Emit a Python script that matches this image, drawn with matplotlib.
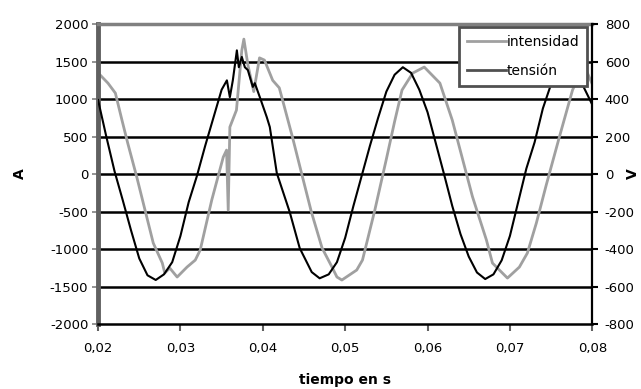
import matplotlib
matplotlib.use("Agg")
import matplotlib.pyplot as plt
from matplotlib.lines import Line2D

plt.rcParams['font.family'] = ['DejaVu Sans']
plt.rcParams['axes.unicode_minus'] = False

# intensidad (A)
t_int = [0.0200, 0.0212, 0.0221, 0.0229, 0.0236, 0.0247, 0.0257, 0.0267, 0.0278, 0.0281,
         0.0287, 0.0296, 0.0308, 0.0318, 0.0324, 0.0338, 0.0352, 0.0356, 0.0358, 0.0360,
         0.0368, 0.0370, 0.03745, 0.0377, 0.0382, 0.0389, 0.0396, 0.0402, 0.0412, 0.0420,
         0.0424, 0.0436, 0.0447, 0.0459, 0.0472, 0.0484, 0.0490, 0.0496, 0.0514, 0.0521,
         0.0536, 0.0550, 0.0560, 0.0569, 0.0582, 0.0596, 0.0615, 0.0630, 0.06545, 0.06715,
         0.06788, 0.0697, 0.07115, 0.07212, 0.07321, 0.0744, 0.0760, 0.0776, 0.0785, 0.0792,
         0.0800]
intensidad = [1350, 1213, 1080, 720, 413, -40, -480, -920, -1187, -1320,
              -1253, -1373, -1240, -1147, -1013, -347, 227, 320, -480, 627,
              853, 1100, 1650, 1800, 1450, 1100, 1550, 1520, 1250, 1150,
              987, 493, 13, -507, -987, -1240, -1373, -1413, -1280, -1147,
              -480, 200, 700, 1120, 1347, 1427, 1213, 720, -300, -880,
              -1187, -1387, -1240, -1053, -653, -150, 493, 1120, 1340, 1400,
              1200]

# tension (V)
t_ten = [0.020, 0.021, 0.022, 0.023, 0.024, 0.025, 0.026, 0.027, 0.028, 0.029,
         0.030, 0.031, 0.032, 0.033, 0.034, 0.035, 0.03564, 0.0360, 0.03636, 0.03685,
         0.03709, 0.03745, 0.03782, 0.03818, 0.03879, 0.03903, 0.03964, 0.04048, 0.04085, 0.0417,
         0.04327, 0.04448, 0.04594, 0.0469, 0.048, 0.049, 0.050, 0.051, 0.052, 0.053,
         0.054, 0.055, 0.056, 0.057, 0.058, 0.059, 0.060, 0.061, 0.062, 0.063,
         0.064, 0.065, 0.066, 0.067, 0.068, 0.069, 0.070, 0.071, 0.072, 0.073,
         0.074, 0.075, 0.076, 0.077, 0.078, 0.079, 0.080]
tension = [395, 200, 15, -140, -300, -450, -540, -565, -535, -470,
           -330, -150, -10, 150, 300, 450, 500, 410, 500, 660,
           570, 625, 570, 555, 465, 485, 410, 304, 251, 5,
           -203, -395, -523, -556, -535, -470, -340, -170, -10, 150,
           300, 440, 530, 570, 540, 450, 330, 165, 0, -170,
           -320, -440, -525, -560, -535, -460, -330, -150, 30, 170,
           350, 480, 550, 575, 540, 460, 370]

x_ticks = [0.02, 0.03, 0.04, 0.05, 0.06, 0.07, 0.08]
x_labels = ['0,02', '0,03', '0,04', '0,05', '0,06', '0,07', '0,08']
yA_ticks = [-2000, -1500, -1000, -500, 0, 500, 1000, 1500, 2000]
yV_ticks = [-800, -600, -400, -200, 0, 200, 400, 600, 800]

fig = plt.figure(figsize=(6.41, 3.89), dpi=100)
ax = fig.add_axes([0.153, 0.167, 0.771, 0.771])
ax2 = ax.twinx()

for y in yA_ticks[1:-1]:
    ax.axhline(y, color='black', lw=1.8, zorder=1)

ax.plot(t_int, intensidad, color='#a0a0a0', lw=2.0, zorder=2)
ax2.plot(t_ten, tension, color='black', lw=1.5, zorder=2)

ax.set_xlim(0.02, 0.08)
ax.set_ylim(-2000, 2000)
ax2.set_ylim(-800, 800)
ax.set_xticks(x_ticks)
ax.set_xticklabels(x_labels)
ax.set_yticks(yA_ticks)
ax2.set_yticks(yV_ticks)

ax.spines['top'].set_color('#808080')
ax.spines['top'].set_linewidth(2.5)
ax2.spines['top'].set_visible(False)
ax.spines['left'].set_color('#606060')
ax.spines['left'].set_linewidth(3.5)
ax2.spines['left'].set_visible(False)
ax.spines['bottom'].set_linewidth(1.8)
ax2.spines['bottom'].set_visible(False)
ax2.spines['right'].set_linewidth(1.6)
ax.spines['right'].set_visible(False)

ax.tick_params(axis='y', direction='out', length=4, width=1.2, color='#808080', labelsize=9.5, pad=3)
ax.tick_params(axis='x', direction='out', length=5, width=1.5, color='#606060', labelsize=9.5, pad=8)
ax2.tick_params(axis='y', direction='out', length=4, width=1.5, color='black', labelsize=9.5, pad=5)

ax.set_xlabel('tiempo en s', fontsize=10, fontweight='bold', labelpad=13)
fig.text(20 / 641, 1 - 174 / 389, 'A', fontsize=10, fontweight='bold', rotation=90,
         ha='center', va='center')
fig.text(633 / 641, 1 - 174 / 389, 'V', fontsize=10, fontweight='bold', rotation=90,
         ha='center', va='center')

handles = [Line2D([], [], color='#a0a0a0', lw=2.0), Line2D([], [], color='#505050', lw=2.0)]
leg = ax2.legend(handles, ['intensidad', 'tensión'], loc='upper right',
                 bbox_to_anchor=(0.99, 0.99), fontsize=10, frameon=True, fancybox=False,
                 framealpha=1, edgecolor='#505050', handlelength=2.8, handletextpad=0.1,
                 borderpad=0.55, labelspacing=1.1, borderaxespad=0)
leg.get_frame().set_linewidth(2)
leg.set_zorder(5)

fig.savefig('out.png', dpi=100)
